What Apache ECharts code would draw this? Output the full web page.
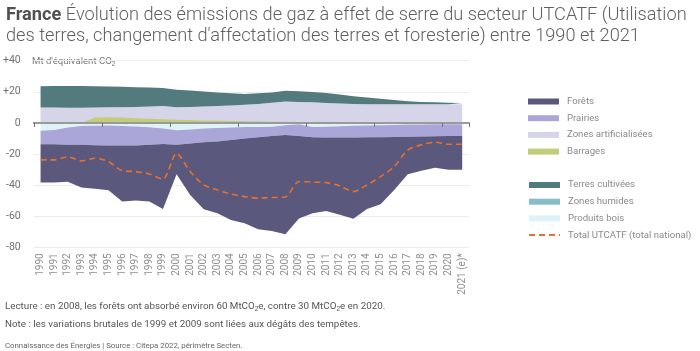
<!DOCTYPE html>
<html>
<head>
<meta charset="utf-8">
<script src="https://cdn.jsdelivr.net/npm/echarts@6/dist/echarts.min.js"></script>
<style>
  html, body { margin: 0; padding: 0; background: #fff; }
  #main { width: 700px; height: 351px; }
</style>
</head>
<body>
<div id="main"></div>
<script>
// années (2021 estimée)
var years = ['1990','1991','1992','1993','1994','1995','1996','1997','1998','1999',
  '2000','2001','2002','2003','2004','2005','2006','2007','2008','2009',
  '2010','2011','2012','2013','2014','2015','2016','2017','2018','2019',
  '2020','2021 (e)*'];

// Mt CO2e
var forets = [-24.7,-24.6,-23.9,-27.5,-28.1,-28.8,-36.1,-35.4,-36.6,-41.8,
  -18.9,-33.0,-43.0,-46.1,-51.4,-54.5,-59.2,-61.0,-63.8,-53.0,
  -48.9,-47.3,-49.7,-52.3,-46.0,-43.1,-34.1,-24.1,-22.0,-20.3,
  -21.7,-21.8];
var prairies = [-8.7,-9.3,-11.0,-12.1,-12.5,-12.8,-12.5,-12.2,-11.2,-9.9,
  -9.4,-9.1,-8.9,-8.8,-8.1,-7.3,-6.6,-6.0,-6.3,-7.7,
  -6.6,-7.0,-7.3,-7.5,-7.6,-7.7,-7.7,-7.8,-7.7,-7.7,
  -7.6,-7.5];
var zonesArtif = [9.9,9.9,9.8,9.8,9.9,10.0,10.0,10.2,10.5,10.9,
  10.1,10.3,10.5,10.8,11.2,11.6,12.2,13.0,13.8,13.5,
  13.2,12.8,12.4,12.1,12.0,12.0,12.0,12.0,12.0,12.0,
  12.0,12.0];
var barrages = [0,0,0,0,3.5,3.7,3.4,3.0,2.6,2.3,
  2.0,1.8,1.6,1.4,1.2,1.0,0.9,0.8,0.7,0.6,
  0.6,0.5,0.5,0.5,0.5,0.5,0.5,0.5,0.5,0.5,
  0.5,0.5];
var terresCultivees = [13.6,13.9,14.0,13.9,13.7,13.4,13.2,12.8,12.2,11.5,
  11.2,10.5,9.7,8.8,7.8,7.0,6.8,6.6,6.8,6.9,
  6.6,6.4,5.9,5.1,4.4,3.6,2.8,2.0,1.5,1.2,
  1.0,0.8];
var zonesHumides = [0,0,0,0,0,0,0,0,0,0,
  0,0,0,0,0,0,0,0,0,0,
  0,0,0,0,0,0,0,0,0,0,
  0,0];
var produitsBois = [-5.0,-4.5,-3.0,-2.0,-1.8,-1.7,-2.0,-2.3,-2.8,-3.6,
  -4.7,-4.2,-3.6,-3.2,-2.9,-2.7,-2.6,-2.5,-1.5,-0.8,
  -2.6,-2.4,-2.1,-1.9,-1.7,-1.5,-1.3,-1.1,-1.0,-0.9,
  -0.9,-0.9];
var totalNational = [-23.8,-23.8,-21.8,-24.4,-22.7,-24.9,-30.7,-31.3,-32.8,-36.2,
  -19.5,-31.3,-39.9,-43.1,-45.7,-47.4,-48.4,-48.0,-47.6,-37.7,
  -38.1,-38.4,-40.5,-44.2,-39.9,-34.5,-28.1,-17.4,-14.1,-12.4,
  -13.7,-13.7];

var yTicks = [-80, -60, -40, -20, 0, 20, 40];

var FONT = 'Roboto, "Noto Sans", sans-serif';

var myChart = echarts.init(document.getElementById('main'), null, { renderer: 'canvas' });

function area(name, data, color, stack) {
  return {
    name: name,
    type: 'line',
    stack: stack,
    data: data,
    color: color,
    symbol: 'none',
    lineStyle: { width: 0 },
    areaStyle: { color: color, opacity: 1 },
    emphasis: { disabled: true },
    silent: true
  };
}

var legendText = { color: '#8a8a8a', fontSize: 9.6, fontFamily: FONT, lineHeight: 13, padding: [0, 0, 0, 3] };

var option = {
  animation: false,
  textStyle: { fontFamily: FONT },
  title: {
    left: 1,
    top: 0,
    text: '{b|France} {r|Évolution des émissions de gaz à effet de serre du secteur UTCATF (Utilisation}\n{r|des terres, changement d\'affectation des terres et foresterie) entre 1990 et 2021}',
    textStyle: {
      rich: {
        b: { fontSize: 18.2, fontWeight: 'bold', color: '#505050', fontFamily: FONT, lineHeight: 21 },
        r: { fontSize: 18.2, fontWeight: 300, color: '#606060', fontFamily: FONT, lineHeight: 21 }
      }
    }
  },
  legend: [
    {
      orient: 'vertical', left: 528, top: 95, padding: 0,
      itemWidth: 31, itemHeight: 6, itemGap: 3.7,
      selectedMode: false, textStyle: legendText,
      data: [
        { name: 'Forêts', icon: 'rect' },
        { name: 'Prairies', icon: 'rect' },
        { name: 'Zones artificialisées', icon: 'rect' },
        { name: 'Barrages', icon: 'rect' }
      ]
    },
    {
      orient: 'vertical', left: 528, top: 178.5, padding: 0,
      itemWidth: 31, itemHeight: 6, itemGap: 3.7,
      selectedMode: false, textStyle: legendText,
      data: [
        { name: 'Terres cultivées', icon: 'rect' },
        { name: 'Zones humides', icon: 'rect' },
        { name: 'Produits bois', icon: 'rect' },
        { name: 'Total UTCATF (total national)', itemStyle: { opacity: 0 } }
      ]
    }
  ],
  grid: { left: 30, right: 231, top: 60.7, bottom: 103.7 },
  xAxis: [
    {
      type: 'category',
      data: years,
      z: 10,
      axisLine: { onZero: true, lineStyle: { color: '#9a9a9a', width: 2 } },
      axisTick: { show: true, length: 4, lineStyle: { color: '#707070', width: 1 } },
      axisLabel: { show: false },
      splitLine: { show: false }
    },
    {
      type: 'category',
      data: years,
      position: 'bottom',
      axisLine: { show: false, onZero: false },
      axisTick: { show: false },
      axisLabel: { rotate: 90, color: '#8f8f8f', fontSize: 10, margin: 6, interval: 0 },
      splitLine: { show: false }
    }
  ],
  yAxis: {
    type: 'value',
    min: yTicks[0],
    max: yTicks[yTicks.length - 1],
    interval: 20,
    axisLine: { show: false },
    axisTick: { show: false },
    axisLabel: {
      color: '#707070', fontSize: 10.5, margin: 13,
      formatter: function (v) { return v > 0 ? '+' + v : String(v); }
    },
    splitLine: { lineStyle: { color: '#ececec', width: 1 } }
  },
  series: [
    area('Produits bois', produitsBois, '#ddf3f5', 'a'),
    area('Prairies', prairies, '#aaa6d7', 'a'),
    area('Forêts', forets, '#5b587e', 'a'),
    area('Zones artificialisées', zonesArtif, '#d5d4e9', 'a'),
    area('Terres cultivées', terresCultivees, '#537a7d', 'a'),
    area('Zones humides', zonesHumides, '#88bdc7', 'h'),
    area('Barrages', barrages, '#c3cc7b', 'b'),
    {
      name: 'Total UTCATF (total national)',
      type: 'line',
      data: totalNational,
      color: '#e8702b',
      symbol: 'none',
      smooth: 0.25,
      lineStyle: { color: '#e8702b', width: 1.6, type: [6, 4] },
      emphasis: { disabled: true },
      silent: true,
      z: 5
    }
  ],
  graphic: [
    {
      type: 'text', left: 30, top: 54,
      style: {
        text: 'Mt d\'équivalent CO{s|2}',
        fill: '#777', font: '9.6px ' + FONT,
        backgroundColor: '#fff', padding: [2, 12, 2, 2],
        rich: { s: { fontSize: 6.5, fill: '#777', verticalAlign: 'bottom', padding: [5, 0, 0, 0] } }
      }
    },
    {
      type: 'text', left: 5, top: 302,
      style: {
        text: 'Lecture : en 2008, les forêts ont absorbé environ 60 MtCO{s|2}e, contre 30 MtCO{s|2}e en 2020.',
        fill: '#555', font: '9.8px ' + FONT,
        rich: { s: { fontSize: 6.5, fill: '#555', verticalAlign: 'bottom', padding: [5, 0, 0, 0] } }
      }
    },
    {
      type: 'text', left: 5, top: 320,
      style: {
        text: 'Note : les variations brutales de 1999 et 2009 sont liées aux dégâts des tempêtes.',
        fill: '#555', font: '9.8px ' + FONT
      }
    },
    {
      type: 'text', left: 5, top: 342,
      style: {
        text: 'Connaissance des Énergies | Source : Citepa 2022, périmètre Secten.',
        fill: '#666', font: '7.8px ' + FONT
      }
    }
  ]
};

myChart.setOption(option);
window.addEventListener('resize', myChart.resize);
</script>
</body>
</html>
